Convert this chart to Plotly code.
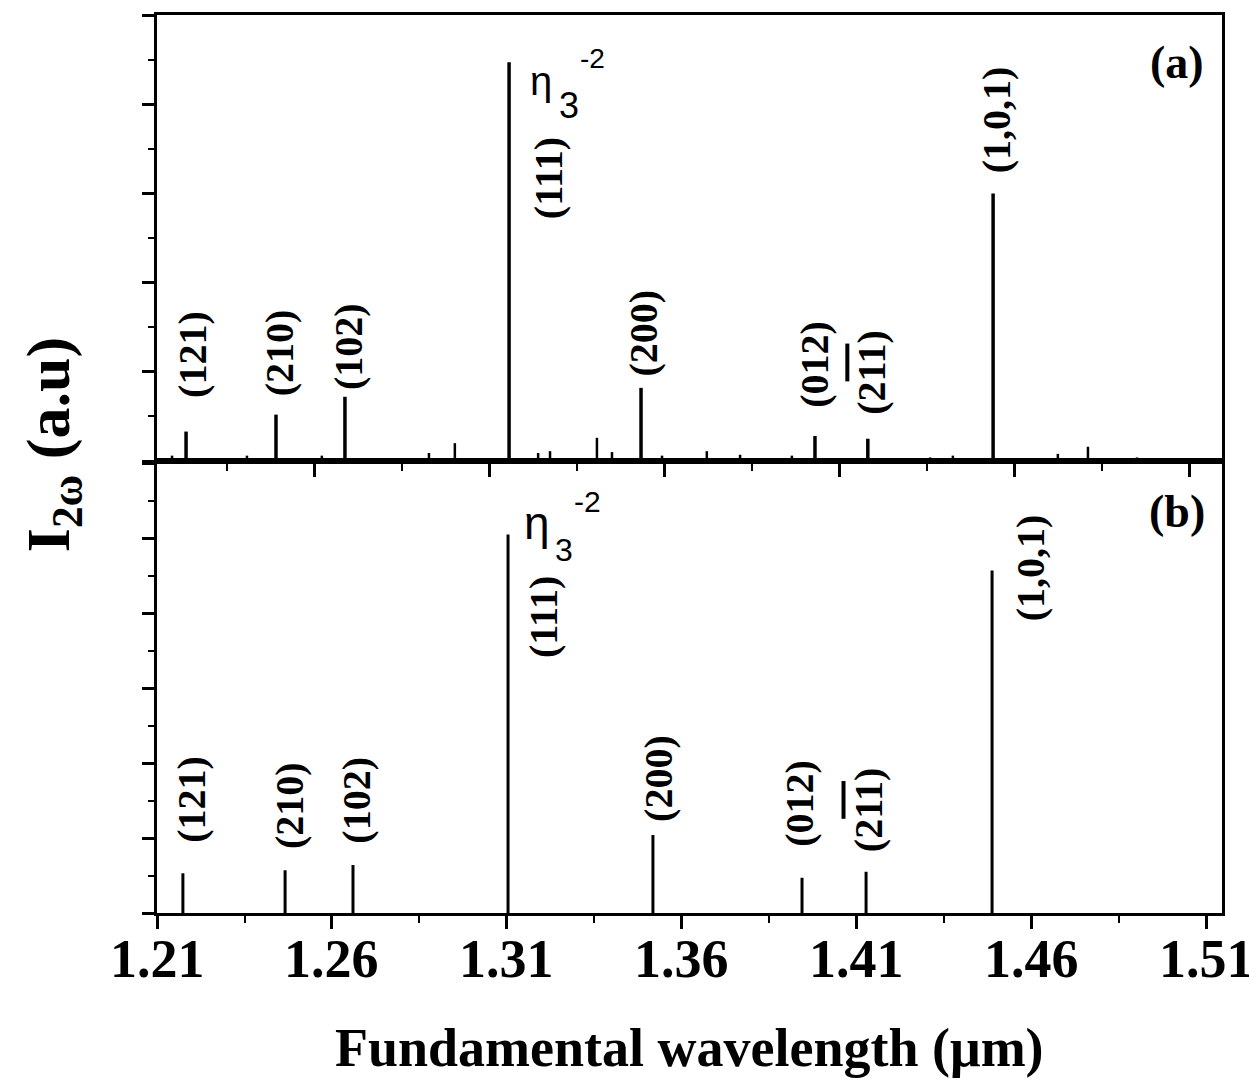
import plotly.graph_objects as go

# ---- (a) measured second-harmonic spectrum ----
meas_wl = [1.2232, 1.2489, 1.2686, 1.3155, 1.3532, 1.4029, 1.4180, 1.4538]
meas_int = [0.33, 0.52, 0.72, 4.47, 0.82, 0.28, 0.25, 3.00]
# small features along the measured baseline
bg_wl = [1.2192, 1.2406, 1.2620, 1.2926, 1.3000, 1.3238, 1.3272, 1.3406, 1.3449,
         1.3592, 1.3720, 1.3815, 1.3963, 1.4358, 1.4423, 1.4723, 1.4809, 1.4949]
bg_int = [0.06, 0.06, 0.06, 0.09, 0.20, 0.09, 0.11, 0.26, 0.10,
          0.06, 0.11, 0.07, 0.06, 0.04, 0.06, 0.08, 0.16, 0.04]

# ---- (b) calculated spectrum ----
calc_wl = [1.2174, 1.2466, 1.2660, 1.3103, 1.3517, 1.3943, 1.4126, 1.4486]
calc_int = [0.53, 0.57, 0.64, 5.05, 1.04, 0.47, 0.55, 4.57]

# reciprocal-lattice vector of each peak
peak_labels = ["(121)", "(210)", "(102)", "(111)", "(200)", "(012)",
               "(2<span style='text-decoration:overline'>11</span>)", "(1,0,1)"]

x_ticks = [1.21, 1.26, 1.31, 1.36, 1.41, 1.46, 1.51]
x_tick_text = ["1.21", "1.26", "1.31", "1.36", "1.41", "1.46", "1.51"]

# label placement (x, y) for each panel
pos_a = [(1.2252, 1.19), (1.2498, 1.21), (1.2698, 1.28), (1.3266, 3.17),
         (1.3538, 1.43), (1.4029, 1.09), (1.4192, 0.99), (1.4546, 3.83)]
pos_b = [(1.2200, 1.51), (1.2477, 1.44), (1.2671, 1.51), (1.3206, 3.95),
         (1.3531, 1.80), (1.3937, 1.47), (1.4131, 1.37), (1.4597, 4.61)]

SERIF = "Liberation Serif"
SANS = "Liberation Sans"


def serif_bold(size):
    return dict(family=SERIF, size=size, color="black", weight="bold")


def sticks(xs, ys):
    px, py = [], []
    for a, b in zip(xs, ys):
        px += [a, a, None]
        py += [0, b, None]
    return px, py


fig = go.Figure()

bx, by = sticks(bg_wl, bg_int)
fig.add_trace(go.Scatter(x=bx, y=by, mode="lines", line=dict(color="black", width=2.5),
                         xaxis="x", yaxis="y", showlegend=False, hoverinfo="skip"))
mx, my = sticks(meas_wl, meas_int)
fig.add_trace(go.Scatter(x=mx, y=my, mode="lines", line=dict(color="black", width=3.5),
                         xaxis="x", yaxis="y", showlegend=False))
cx, cy = sticks(calc_wl, calc_int)
fig.add_trace(go.Scatter(x=cx, y=cy, mode="lines", line=dict(color="black", width=3),
                         xaxis="x2", yaxis="y2", showlegend=False))

ann = []
for lab, (x, y) in zip(peak_labels, pos_a):
    ann.append(dict(x=x, y=y, xref="x", yref="y", text=lab, textangle=-90, showarrow=False,
                    xanchor="center", yanchor="middle", font=serif_bold(40)))
for lab, (x, y) in zip(peak_labels, pos_b):
    ann.append(dict(x=x, y=y, xref="x2", yref="y2", text=lab, textangle=-90, showarrow=False,
                    xanchor="center", yanchor="middle", font=serif_bold(40)))

# eta_3^-2 marks beside the (111) peaks
ann += [
    dict(x=1.3209, y=4.26, xref="x", yref="y", text="η", showarrow=False, xanchor="left",
         yanchor="middle", font=dict(family=SANS, size=40, color="black")),
    dict(x=1.3292, y=3.98, xref="x", yref="y", text="3", showarrow=False, xanchor="left",
         yanchor="middle", font=dict(family=SANS, size=36, color="black")),
    dict(x=1.3352, y=4.51, xref="x", yref="y", text="-2", showarrow=False, xanchor="left",
         yanchor="middle", font=dict(family=SANS, size=28, color="black")),
    dict(x=1.3143, y=5.20, xref="x2", yref="y2", text="η", showarrow=False, xanchor="left",
         yanchor="middle", font=dict(family=SANS, size=46, color="black")),
    dict(x=1.3231, y=4.84, xref="x2", yref="y2", text="3", showarrow=False, xanchor="left",
         yanchor="middle", font=dict(family=SANS, size=32, color="black")),
    dict(x=1.3286, y=5.49, xref="x2", yref="y2", text="-2", showarrow=False, xanchor="left",
         yanchor="middle", font=dict(family=SANS, size=30, color="black")),
]

# panel tags
ann += [
    dict(x=1.5063, y=4.47, xref="x", yref="y", text="(a)", showarrow=False,
         xanchor="center", yanchor="middle", font=serif_bold(46)),
    dict(x=1.5014, y=5.35, xref="x2", yref="y2", text="(b)", showarrow=False,
         xanchor="center", yanchor="middle", font=serif_bold(46)),
]

# wavelength tick labels, set close under the bottom axis
for v, t in zip(x_ticks, x_tick_text):
    ann.append(dict(x=v, y=-0.051, xref="x2", yref="paper", text=t, showarrow=False,
                    xanchor="center", yanchor="middle", font=serif_bold(54)))

# axis titles
ann += [
    dict(x=-0.0986, y=0.522, xref="paper", yref="paper", text="I<sub>2ω</sub> (a.u)",
         textangle=-90, showarrow=False, xanchor="center", yanchor="middle",
         font=serif_bold(62)),
    dict(x=0.5, y=-0.150, xref="paper", yref="paper", text="Fundamental wavelength (μm)",
         showarrow=False, xanchor="center", yanchor="middle", font=serif_bold(54)),
]

split = 452 / 898

common_x = dict(showline=True, linewidth=3, linecolor="black", mirror=True, showgrid=False,
                zeroline=False, ticks="outside", ticklen=13, tickwidth=2.5, tickcolor="black",
                tickvals=x_ticks, automargin=False, showticklabels=False,
                minor=dict(ticks="outside", ticklen=7, tickwidth=2, tickcolor="black", dtick=0.025,
                           tick0=1.21))
common_y = dict(showline=True, linewidth=3, linecolor="black", mirror=True, showgrid=False,
                zeroline=False, ticks="outside", ticklen=12, tickwidth=2.5, tickcolor="black",
                showticklabels=False, dtick=1, tick0=0, automargin=False,
                minor=dict(ticks="outside", ticklen=6, tickwidth=2, tickcolor="black", dtick=0.5))

fig.update_layout(
    width=1249, height=1082, autosize=False,
    margin=dict(l=157, r=27, t=15, b=169, autoexpand=False),
    paper_bgcolor="white", plot_bgcolor="white",
    showlegend=False,
    xaxis=dict(common_x, anchor="y", range=[1.2149, 1.5192]),
    yaxis=dict(common_y, anchor="x", domain=[split, 1], range=[0, 5]),
    xaxis2=dict(common_x, anchor="y2", range=[1.21, 1.5143]),
    yaxis2=dict(common_y, anchor="x2", domain=[0, split], range=[0, 6.03]),
    annotations=ann,
)

fig.write_html("out.html")
